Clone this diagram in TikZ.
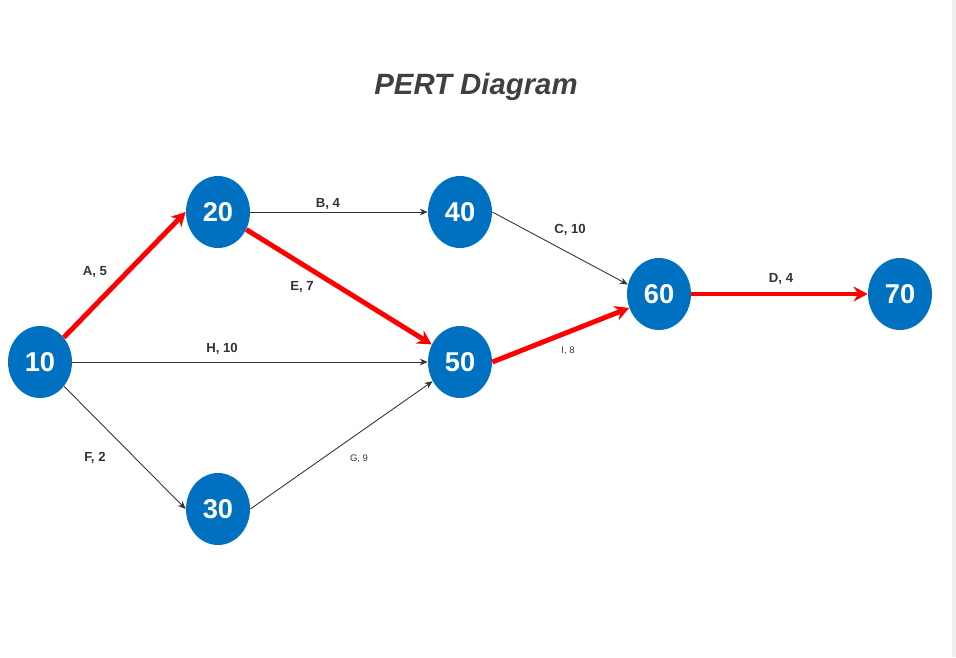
\documentclass[tikz,border=0pt]{standalone}
\usepackage{fontspec}
\setmainfont{Liberation Sans}
\usetikzlibrary{arrows.meta,shapes.geometric}
\definecolor{nodeblue}{HTML}{0070C0}
\definecolor{titlegray}{HTML}{404040}
\definecolor{labelgray}{HTML}{333333}
\definecolor{edgegray}{HTML}{EEEEEE}
\tikzset{
  event/.style={ellipse,fill=nodeblue,text=white,minimum width=1.28cm,minimum height=1.44cm,inner sep=0pt,font=\fontsize{15.5}{17}\selectfont\bfseries},
  task/.style={draw=labelgray,line width=0.5pt,-{Stealth[length=4.5pt,width=3.8pt]}},
  crit/.style={draw=red,line width=2.8pt,-{Stealth[length=8pt,width=8.5pt]}},
  tasklabel/.style={text=labelgray,font=\fontsize{7.5}{9}\selectfont\bfseries},
  minorlabel/.style={text=labelgray,font=\fontsize{5.4}{7}\selectfont},
}
\begin{document}
\begin{tikzpicture}[x=0.02cm,y=-0.02cm]
	\useasboundingbox (0,0) rectangle (956,657);
	\fill[edgegray] (952,0) rectangle (956,657);
	\node[text=titlegray,font=\fontsize{16.7}{19}\selectfont\bfseries\itshape] (title) at (476,87) {PERT Diagram};
	% events
	\node[event] (n10) at (40,362) {10};
	\node[event] (n20) at (218,212) {20};
	\node[event] (n30) at (218,509) {30};
	\node[event] (n40) at (460,212) {40};
	\node[event] (n50) at (460,362) {50};
	\node[event] (n60) at (659,294) {60};
	\node[event] (n70) at (900,294) {70};
	% activities
	\draw[crit] (n10) -- (n20.west);
	\draw[task] (n20) -- (n40);
	\draw[crit] (n20) -- (n50);
	\draw[task] (n40.east) -- (n60.163);
	\draw[crit] (n60) -- (n70);
	\draw[task] (n10) -- (n50);
	\draw[task] (n10) -- (n30.west);
	\draw[task] (n30.east) -- (n50);
	\draw[crit] (n50.east) -- (n60.205);
	% labels
	\node[tasklabel] (la) at (95,272) {A, 5};
	\node[tasklabel] (lb) at (328,204) {B, 4};
	\node[tasklabel] (lc) at (570,230) {C, 10};
	\node[tasklabel] (ld) at (781,279) {D, 4};
	\node[tasklabel] (le) at (302,287) {E, 7};
	\node[tasklabel] (lf) at (95,458) {F, 2};
	\node[minorlabel] (lg) at (359,459) {G, 9};
	\node[tasklabel] (lh) at (222,349) {H, 10};
	\node[minorlabel] (li) at (568,351) {I, 8};
\end{tikzpicture}
\end{document}
